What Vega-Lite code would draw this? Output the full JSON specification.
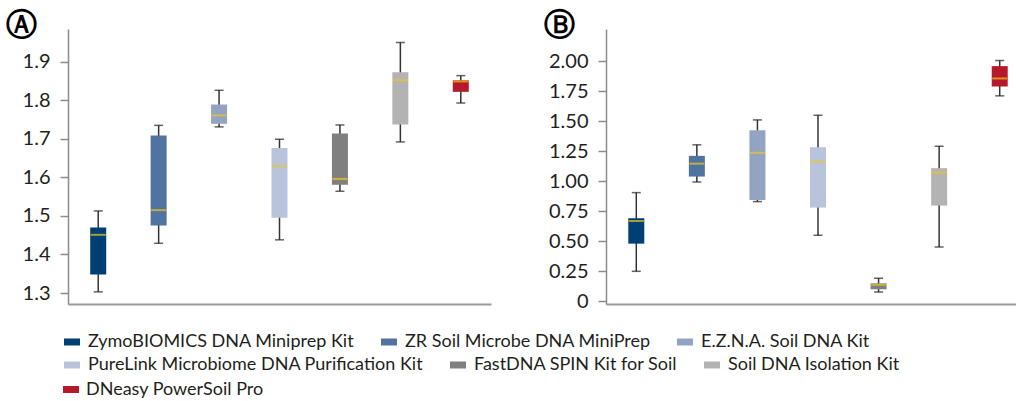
{
  "$schema": "https://vega.github.io/schema/vega-lite/v6.json",
  "padding": {"left": 6, "top": 10, "right": 0, "bottom": 0},
  "background": "white",
  "config": {
    "view": {"stroke": null},
    "font": "Lato",
    "axisY": {
      "domainColor": "#8c8c8c", "domainWidth": 1.5, "tickColor": "#8c8c8c", "tickWidth": 1.5, "tickSize": 8,
      "labelPadding": 10, "labelFont": "Lato", "labelFontSize": 20, "labelColor": "#231f20", "grid": false, "title": null, "labelOverlap": false
    },
    "axisX": {
      "domainColor": "#9a9a9a", "domainWidth": 2, "ticks": false, "labels": false, "title": null, "grid": false
    },
    "legend": {"title": null, "orient": "none", "direction": "horizontal", "labelFont": "Lato", "labelFontSize": 18, "labelColor": "#231f20", "labelOffset": 7, "columnPadding": 25, "labelLimit": 400, "padding": 0, "symbolOpacity": 1},
    "title": {"font": "DejaVu Sans", "fontSize": 31, "fontWeight": "bold", "color": "#000000", "anchor": "start", "frame": "group", "baseline": "middle"}
  },
  "datasets": {
    "A": [
      {"kit": "ZymoBIOMICS DNA Miniprep Kit", "row": 1, "min": 1.303, "q1": 1.348, "median": 1.451, "q3": 1.470, "max": 1.513},
      {"kit": "ZR Soil Microbe DNA MiniPrep", "row": 1, "min": 1.429, "q1": 1.475, "median": 1.515, "q3": 1.709, "max": 1.735},
      {"kit": "E.Z.N.A. Soil DNA Kit", "row": 1, "min": 1.731, "q1": 1.739, "median": 1.761, "q3": 1.789, "max": 1.826},
      {"kit": "PureLink Microbiome DNA Purification Kit", "row": 2, "min": 1.438, "q1": 1.495, "median": 1.629, "q3": 1.676, "max": 1.699},
      {"kit": "FastDNA SPIN Kit for Soil", "row": 2, "min": 1.564, "q1": 1.581, "median": 1.596, "q3": 1.714, "max": 1.736},
      {"kit": "Soil DNA Isolation Kit", "row": 2, "min": 1.692, "q1": 1.737, "median": 1.852, "q3": 1.873, "max": 1.950},
      {"kit": "DNeasy PowerSoil Pro", "row": 3, "min": 1.793, "q1": 1.822, "median": 1.849, "q3": 1.852, "max": 1.864}
    ],
    "B": [
      {"kit": "ZymoBIOMICS DNA Miniprep Kit", "row": 1, "min": 0.248, "q1": 0.479, "median": 0.668, "q3": 0.691, "max": 0.905},
      {"kit": "ZR Soil Microbe DNA MiniPrep", "row": 1, "min": 0.994, "q1": 1.039, "median": 1.147, "q3": 1.212, "max": 1.304},
      {"kit": "E.Z.N.A. Soil DNA Kit", "row": 1, "min": 0.830, "q1": 0.844, "median": 1.237, "q3": 1.426, "max": 1.512},
      {"kit": "PureLink Microbiome DNA Purification Kit", "row": 2, "min": 0.549, "q1": 0.780, "median": 1.164, "q3": 1.284, "max": 1.551},
      {"kit": "FastDNA SPIN Kit for Soil", "row": 2, "min": 0.075, "q1": 0.098, "median": 0.136, "q3": 0.148, "max": 0.190},
      {"kit": "Soil DNA Isolation Kit", "row": 2, "min": 0.451, "q1": 0.797, "median": 1.072, "q3": 1.109, "max": 1.292},
      {"kit": "DNeasy PowerSoil Pro", "row": 3, "min": 1.713, "q1": 1.791, "median": 1.858, "q3": 1.961, "max": 2.008}
    ]
  },
  "hconcat": [
    {
      "title": {"text": "Ⓐ", "dx": -62, "offset": -13},
      "width": 423,
      "height": 275,
      "data": {"name": "A"},
      "encoding": {
        "x": {"field": "kit", "type": "nominal", "sort": null, "scale": {"paddingInner": 0, "paddingOuter": 0}, "axis": {"labels": false}}
      },
      "layer": [
        {"mark": {"type": "rule", "color": "#333333", "strokeWidth": 1.5},
         "encoding": {"y": {"field": "min", "type": "quantitative", "scale": {"domain": [1.2715, 1.985], "nice": false, "zero": false}, "axis": {"values": [1.3, 1.4, 1.5, 1.6, 1.7, 1.8, 1.9], "format": ".1f", "labelOverlap": false}}, "y2": {"field": "max"}}},
        {"mark": {"type": "tick", "color": "#222222", "size": 9, "thickness": 1.5},
         "encoding": {"y": {"field": "min", "type": "quantitative", "scale": {"domain": [1.2715, 1.985], "nice": false, "zero": false}, "axis": {"values": [1.3, 1.4, 1.5, 1.6, 1.7, 1.8, 1.9], "format": ".1f", "labelOverlap": false}}}},
        {"mark": {"type": "tick", "color": "#222222", "size": 9, "thickness": 1.5},
         "encoding": {"y": {"field": "max", "type": "quantitative", "scale": {"domain": [1.2715, 1.985], "nice": false, "zero": false}, "axis": {"values": [1.3, 1.4, 1.5, 1.6, 1.7, 1.8, 1.9], "format": ".1f", "labelOverlap": false}}}},
        {"transform": [{"filter": "datum.row == 1"}],
         "mark": {"type": "bar", "size": 16},
         "encoding": {"y": {"field": "q1", "type": "quantitative", "scale": {"domain": [1.2715, 1.985], "nice": false, "zero": false}, "axis": {"values": [1.3, 1.4, 1.5, 1.6, 1.7, 1.8, 1.9], "format": ".1f", "labelOverlap": false}}, "y2": {"field": "q3"},
           "color": {"field": "kit", "type": "nominal", "sort": null,
             "scale": {"domain": ["ZymoBIOMICS DNA Miniprep Kit", "ZR Soil Microbe DNA MiniPrep", "E.Z.N.A. Soil DNA Kit"], "range": ["#003f74", "#5073a0", "#93a4c3"]},
             "legend": {"legendX": -5, "legendY": 304, "symbolType": "M-1,-0.4375H1V0.4375H-1Z", "symbolSize": 256, "symbolStrokeWidth": 0}}}},
        {"transform": [{"filter": "datum.row == 2"}],
         "mark": {"type": "bar", "size": 16},
         "encoding": {"y": {"field": "q1", "type": "quantitative", "scale": {"domain": [1.2715, 1.985], "nice": false, "zero": false}, "axis": {"values": [1.3, 1.4, 1.5, 1.6, 1.7, 1.8, 1.9], "format": ".1f", "labelOverlap": false}}, "y2": {"field": "q3"},
           "fill": {"field": "kit", "type": "nominal", "sort": null,
             "scale": {"domain": ["PureLink Microbiome DNA Purification Kit", "FastDNA SPIN Kit for Soil", "Soil DNA Isolation Kit"], "range": ["#b9c4dc", "#7f7f7f", "#b3b3b3"]},
             "legend": {"legendX": -5, "legendY": 327, "symbolType": "M-1,-0.4375H1V0.4375H-1Z", "symbolSize": 256, "symbolStrokeWidth": 0}}}},
        {"transform": [{"filter": "datum.row == 3"}],
         "mark": {"type": "bar", "size": 16, "fill": "#b5192a", "strokeWidth": 0},
         "encoding": {"y": {"field": "q1", "type": "quantitative", "scale": {"domain": [1.2715, 1.985], "nice": false, "zero": false}, "axis": {"values": [1.3, 1.4, 1.5, 1.6, 1.7, 1.8, 1.9], "format": ".1f", "labelOverlap": false}}, "y2": {"field": "q3"},
           "stroke": {"field": "kit", "type": "nominal", "sort": null,
             "scale": {"domain": ["DNeasy PowerSoil Pro"], "range": ["#b5192a"]},
             "legend": {"legendX": -8.5, "legendY": 349, "symbolType": "M-1,0H1", "symbolSize": 256, "symbolStrokeWidth": 7, "labelOffset": 3.5}}}},
        {"mark": {"type": "tick", "color": "#f0c819", "size": 15, "thickness": 2},
         "encoding": {"y": {"field": "median", "type": "quantitative", "scale": {"domain": [1.2715, 1.985], "nice": false, "zero": false}, "axis": {"values": [1.3, 1.4, 1.5, 1.6, 1.7, 1.8, 1.9], "format": ".1f", "labelOverlap": false}}}}
      ]
    },
    {
      "title": {"text": "Ⓑ", "dx": -62, "offset": -13},
      "width": 424,
      "height": 275,
      "data": {"name": "B"},
      "encoding": {
        "x": {"field": "kit", "type": "nominal", "sort": null, "scale": {"paddingInner": 0, "paddingOuter": 0}, "axis": {"labels": false}}
      },
      "layer": [
        {"mark": {"type": "rule", "color": "#333333", "strokeWidth": 1.5},
         "encoding": {"y": {"field": "min", "type": "quantitative", "scale": {"domain": [-0.025, 2.271], "nice": false, "zero": false}, "axis": {"values": [0, 0.25, 0.5, 0.75, 1, 1.25, 1.5, 1.75, 2], "labelExpr": "datum.value == 0 ? '0' : format(datum.value, '.2f')", "labelOverlap": false}}, "y2": {"field": "max"}}},
        {"mark": {"type": "tick", "color": "#222222", "size": 9, "thickness": 1.5},
         "encoding": {"y": {"field": "min", "type": "quantitative", "scale": {"domain": [-0.025, 2.271], "nice": false, "zero": false}, "axis": {"values": [0, 0.25, 0.5, 0.75, 1, 1.25, 1.5, 1.75, 2], "labelExpr": "datum.value == 0 ? '0' : format(datum.value, '.2f')", "labelOverlap": false}}}},
        {"mark": {"type": "tick", "color": "#222222", "size": 9, "thickness": 1.5},
         "encoding": {"y": {"field": "max", "type": "quantitative", "scale": {"domain": [-0.025, 2.271], "nice": false, "zero": false}, "axis": {"values": [0, 0.25, 0.5, 0.75, 1, 1.25, 1.5, 1.75, 2], "labelExpr": "datum.value == 0 ? '0' : format(datum.value, '.2f')", "labelOverlap": false}}}},
        {"transform": [{"filter": "datum.row == 1"}],
         "mark": {"type": "bar", "size": 16},
         "encoding": {"y": {"field": "q1", "type": "quantitative", "scale": {"domain": [-0.025, 2.271], "nice": false, "zero": false}, "axis": {"values": [0, 0.25, 0.5, 0.75, 1, 1.25, 1.5, 1.75, 2], "labelExpr": "datum.value == 0 ? '0' : format(datum.value, '.2f')", "labelOverlap": false}}, "y2": {"field": "q3"},
           "color": {"field": "kit", "type": "nominal", "sort": null}}},
        {"transform": [{"filter": "datum.row == 2"}],
         "mark": {"type": "bar", "size": 16},
         "encoding": {"y": {"field": "q1", "type": "quantitative", "scale": {"domain": [-0.025, 2.271], "nice": false, "zero": false}, "axis": {"values": [0, 0.25, 0.5, 0.75, 1, 1.25, 1.5, 1.75, 2], "labelExpr": "datum.value == 0 ? '0' : format(datum.value, '.2f')", "labelOverlap": false}}, "y2": {"field": "q3"},
           "fill": {"field": "kit", "type": "nominal", "sort": null}}},
        {"transform": [{"filter": "datum.row == 3"}],
         "mark": {"type": "bar", "size": 16, "fill": "#b5192a", "strokeWidth": 0},
         "encoding": {"y": {"field": "q1", "type": "quantitative", "scale": {"domain": [-0.025, 2.271], "nice": false, "zero": false}, "axis": {"values": [0, 0.25, 0.5, 0.75, 1, 1.25, 1.5, 1.75, 2], "labelExpr": "datum.value == 0 ? '0' : format(datum.value, '.2f')", "labelOverlap": false}}, "y2": {"field": "q3"},
           "stroke": {"field": "kit", "type": "nominal", "sort": null}}},
        {"mark": {"type": "tick", "color": "#f0c819", "size": 15, "thickness": 2},
         "encoding": {"y": {"field": "median", "type": "quantitative", "scale": {"domain": [-0.025, 2.271], "nice": false, "zero": false}, "axis": {"values": [0, 0.25, 0.5, 0.75, 1, 1.25, 1.5, 1.75, 2], "labelExpr": "datum.value == 0 ? '0' : format(datum.value, '.2f')", "labelOverlap": false}}}}
      ]
    }
  ],
  "spacing": 53,
  "resolve": {"scale": {"y": "independent"}}
}
